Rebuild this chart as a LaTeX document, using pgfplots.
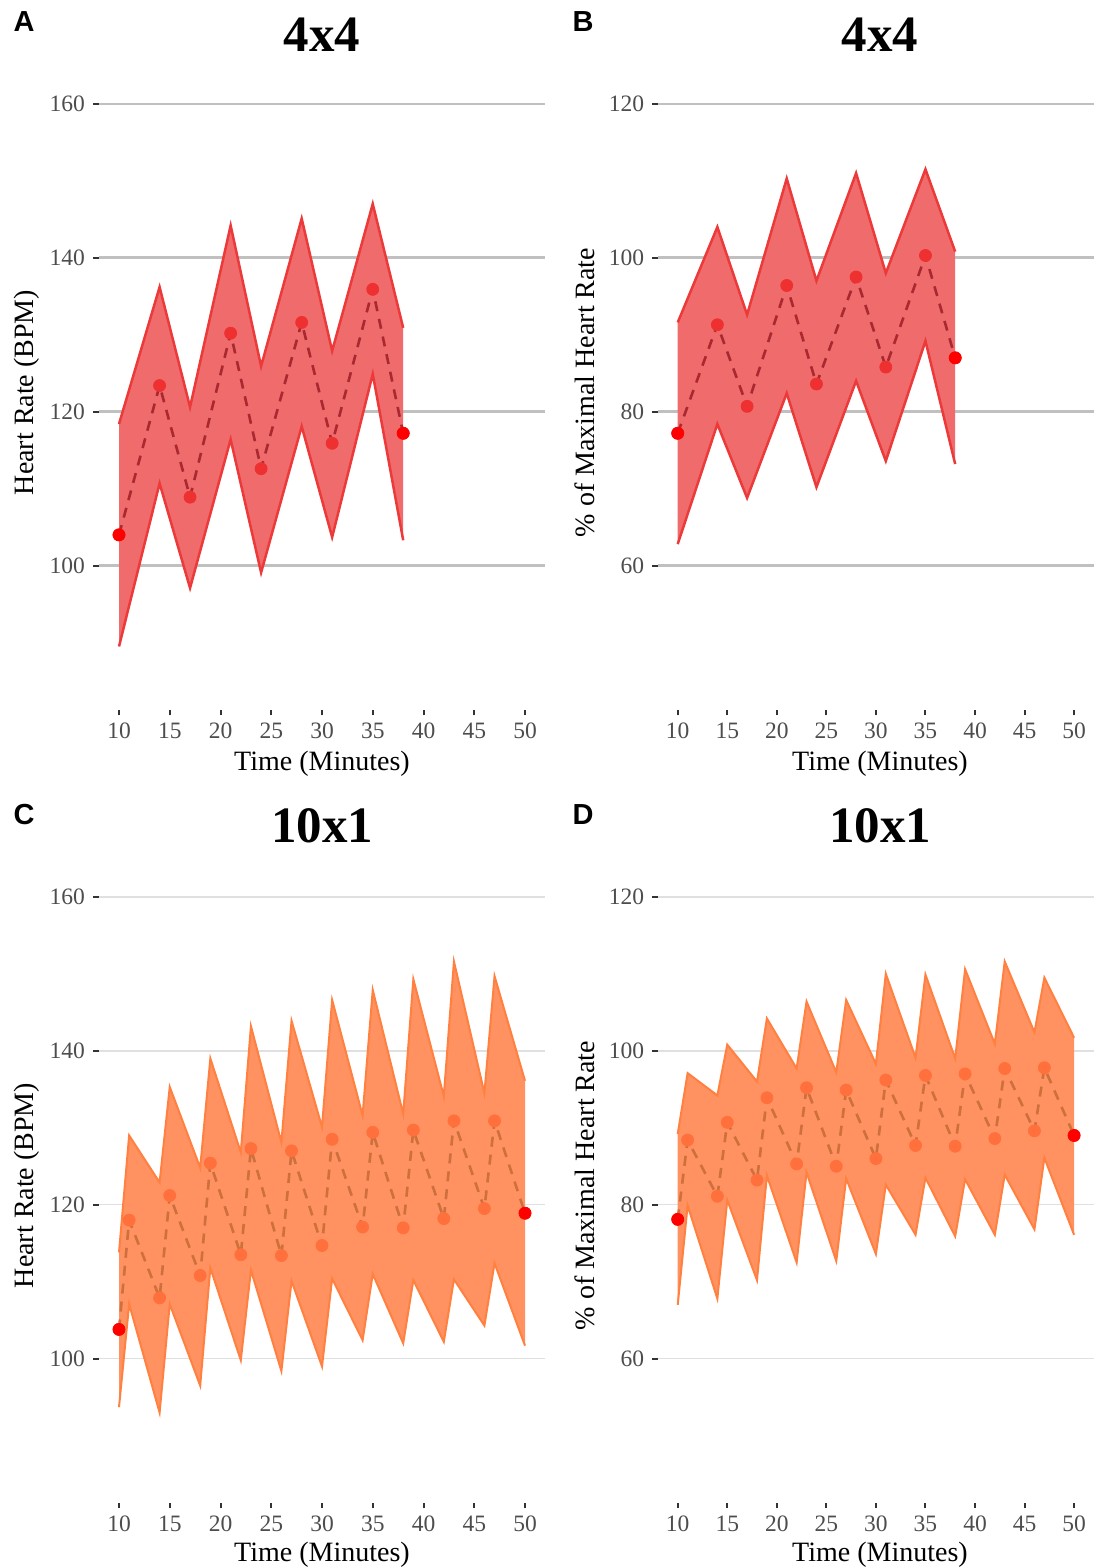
\documentclass[border=0pt]{standalone}
\usepackage{fontspec}
\setmainfont{Liberation Serif}
\newfontfamily\sansfont{Liberation Sans}
\usepackage{pgfplots}
\usepackage{pgfplotstable}
\pgfplotsset{compat=1.18}

\definecolor{fillA}{RGB}{240,107,107}
\definecolor{edgeA}{RGB}{236,58,58}
\definecolor{meanA}{RGB}{168,42,48}
\definecolor{ptA}{RGB}{238,48,48}
\definecolor{fillC}{RGB}{255,146,96}
\definecolor{edgeC}{RGB}{255,128,64}
\definecolor{meanC}{RGB}{205,112,62}
\definecolor{ptC}{RGB}{255,112,60}
\definecolor{gridA}{RGB}{192,192,192}
\definecolor{gridC}{RGB}{224,224,224}
\definecolor{ticklab}{RGB}{77,77,77}
\definecolor{endpt}{RGB}{255,0,0}

\pgfplotstableread{
x mean up lo
10 104.0 118.4 89.5
14 123.4 136.2 110.7
17 108.9 120.6 97.1
21 130.2 144.2 116.4
24 112.6 125.9 99.1
28 131.6 145.1 118.1
31 115.9 127.9 103.7
35 135.9 147.0 124.9
38 117.2 130.9 103.3
}\tA

\pgfplotstableread{
x mean up lo
10 77.2 91.6 62.8
14 91.3 104.0 78.4
17 80.7 92.6 68.8
21 96.4 110.3 82.4
24 83.6 97.0 70.2
28 97.5 111.0 84.0
31 85.8 98.0 73.6
35 100.3 111.5 89.2
38 87.0 100.8 73.2
}\tB

\pgfplotstableread{
x mean up lo
10 103.8 113.8 93.7
11 118.0 129.0 107.1
14 107.9 122.9 93.0
15 121.2 135.3 107.1
18 110.8 124.8 96.5
19 125.4 139.0 111.8
22 113.5 126.8 99.8
23 127.3 143.2 111.5
26 113.4 128.1 98.4
27 127.0 143.9 110.1
30 114.7 130.1 99.0
31 128.5 146.6 110.4
34 117.1 131.6 102.4
35 129.4 147.9 111.0
38 117.0 131.8 102.0
39 129.7 149.3 110.2
42 118.2 134.1 102.2
43 130.9 151.6 110.3
46 119.5 134.5 104.3
47 130.9 149.7 112.4
50 118.9 136.1 101.7
}\tC

\pgfplotstableread{
x mean up lo
10 78.1 89.2 67.0
11 88.4 97.1 79.9
14 81.1 94.2 67.8
15 90.7 100.8 80.6
18 83.2 96.0 70.2
19 93.9 104.2 83.8
22 85.3 97.7 72.5
23 95.2 106.4 84.2
26 85.0 97.2 72.7
27 94.9 106.6 83.4
30 86.0 98.3 73.6
31 96.2 110.0 82.6
34 87.7 99.1 76.1
35 96.8 109.9 83.5
38 87.6 99.0 75.9
39 97.0 110.6 83.3
42 88.6 100.9 76.1
43 97.7 111.6 83.9
46 89.6 102.4 76.8
47 97.8 109.5 86.1
50 89.0 101.7 76.1
}\tD

\pgfplotsset{
  panel/.style={
    scale only axis, anchor=south west,
    xmin=8, xmax=52, xtick={10,15,...,50},
    axis line style={draw=none},
    xtick pos=left, ytick pos=left,
    tick align=outside, major tick length=2.75pt,
    tick style={draw=black!80, line width=1pt},
    ymajorgrids,
    /pgf/number format/assume math mode=true,
    ticklabel style={font=\fontsize{11.75}{14}\selectfont, text=ticklab},
    xticklabel style={yshift=0pt},
    yticklabel style={xshift=-0.6pt},
    clip=false,
  },
  hr/.style={ymin=81.25, ymax=163.75, ytick={100,120,140,160}},
  pct/.style={ymin=41.25, ymax=123.75, ytick={60,80,100,120}},
  gridthick/.style={major grid style={draw=gridA, line width=1.3pt}},
  gridthin/.style={major grid style={draw=gridC, line width=0.7pt}},
}

% lines and points: #1 table, #2 edge, #3 mean, #4 point colour, #5 edge width
\newcommand{\ribbonlines}[5]{%
  \addplot[draw=#2, line width=#5] table[x=x,y=up]{#1};
  \addplot[draw=#2, line width=#5] table[x=x,y=lo]{#1};
  \addplot[draw=#3, line width=1.3pt, dash pattern=on 5pt off 4pt] table[x=x,y=mean]{#1};
  \addplot[only marks, mark=*, mark size=3pt, color=#4] table[x=x,y=mean]{#1};
}

\begin{document}
\begin{tikzpicture}
\path[use as bounding box] (0,0) rectangle (549pt,783.5pt);

% Panel A
\begin{axis}[panel, hr, gridthick, at={(49.35pt,428.5pt)}, width=223.3pt, height=317.5pt]
\addplot[fill=fillA, draw=none] coordinates {(10,118.4)(14,136.2)(17,120.6)(21,144.2)(24,125.9)(28,145.1)(31,127.9)(35,147.0)(38,130.9)(38,103.3)(35,124.9)(31,103.7)(28,118.1)(24,99.1)(21,116.4)(17,97.1)(14,110.7)(10,89.5)} -- cycle;
\ribbonlines{\tA}{edgeA}{meanA}{ptA}{1.25pt}
\addplot[only marks, mark=*, mark size=3pt, color=endpt] coordinates {(10,104.0) (38,117.2)};
\end{axis}

% Panel B
\begin{axis}[panel, pct, gridthick, at={(328.95pt,428.5pt)}, width=218pt, height=317.5pt]
\addplot[fill=fillA, draw=none] coordinates {(10,91.6)(14,104.0)(17,92.6)(21,110.3)(24,97.0)(28,111.0)(31,98.0)(35,111.5)(38,100.8)(38,73.2)(35,89.2)(31,73.6)(28,84.0)(24,70.2)(21,82.4)(17,68.8)(14,78.4)(10,62.8)} -- cycle;
\ribbonlines{\tB}{edgeA}{meanA}{ptA}{1.25pt}
\addplot[only marks, mark=*, mark size=3pt, color=endpt] coordinates {(10,77.2) (38,87.0)};
\end{axis}

% Panel C
\begin{axis}[panel, hr, gridthin, at={(49.35pt,32pt)}, width=223.3pt, height=317.5pt]
\addplot[fill=fillC, draw=none] coordinates {(10,113.8)(11,129.0)(14,122.9)(15,135.3)(18,124.8)(19,139.0)(22,126.8)(23,143.2)(26,128.1)(27,143.9)(30,130.1)(31,146.6)(34,131.6)(35,147.9)(38,131.8)(39,149.3)(42,134.1)(43,151.6)(46,134.5)(47,149.7)(50,136.1)(50,101.7)(47,112.4)(46,104.3)(43,110.3)(42,102.2)(39,110.2)(38,102.0)(35,111.0)(34,102.4)(31,110.4)(30,99.0)(27,110.1)(26,98.4)(23,111.5)(22,99.8)(19,111.8)(18,96.5)(15,107.1)(14,93.0)(11,107.1)(10,93.7)} -- cycle;
\ribbonlines{\tC}{edgeC}{meanC}{ptC}{1.0pt}
\addplot[only marks, mark=*, mark size=3pt, color=endpt] coordinates {(10,103.8) (50,118.9)};
\end{axis}

% Panel D
\begin{axis}[panel, pct, gridthin, at={(328.95pt,32pt)}, width=218pt, height=317.5pt]
\addplot[fill=fillC, draw=none] coordinates {(10,89.2)(11,97.1)(14,94.2)(15,100.8)(18,96.0)(19,104.2)(22,97.7)(23,106.4)(26,97.2)(27,106.6)(30,98.3)(31,110.0)(34,99.1)(35,109.9)(38,99.0)(39,110.6)(42,100.9)(43,111.6)(46,102.4)(47,109.5)(50,101.7)(50,76.1)(47,86.1)(46,76.8)(43,83.9)(42,76.1)(39,83.3)(38,75.9)(35,83.5)(34,76.1)(31,82.6)(30,73.6)(27,83.4)(26,72.7)(23,84.2)(22,72.5)(19,83.8)(18,70.2)(15,80.6)(14,67.8)(11,79.9)(10,67.0)} -- cycle;
\ribbonlines{\tD}{edgeC}{meanC}{ptC}{1.0pt}
\addplot[only marks, mark=*, mark size=3pt, color=endpt] coordinates {(10,78.1) (50,89.0)};
\end{axis}

% titles
\node[font=\fontsize{25.5}{30}\selectfont\bfseries] at (161pt,766pt) {4x4};
\node[font=\fontsize{25.5}{30}\selectfont\bfseries] at (440pt,766pt) {4x4};
\node[font=\fontsize{25.5}{30}\selectfont\bfseries] at (161pt,370.5pt) {10x1};
\node[font=\fontsize{25.5}{30}\selectfont\bfseries] at (440pt,370.5pt) {10x1};

% panel letters
\node[font=\sansfont\fontsize{14.5}{17}\selectfont\bfseries] at (12pt,772.5pt) {A};
\node[font=\sansfont\fontsize{14.5}{17}\selectfont\bfseries] at (291.5pt,772.5pt) {B};
\node[font=\sansfont\fontsize{14.5}{17}\selectfont\bfseries] at (12pt,376pt) {C};
\node[font=\sansfont\fontsize{14.5}{17}\selectfont\bfseries] at (291.5pt,376pt) {D};

% x labels
\node[anchor=base, font=\fontsize{14}{16}\selectfont] at (161pt,398pt) {Time (Minutes)};
\node[anchor=base, font=\fontsize{14}{16}\selectfont] at (440pt,398pt) {Time (Minutes)};
\node[anchor=base, font=\fontsize{14}{16}\selectfont] at (161pt,2.5pt) {Time (Minutes)};
\node[anchor=base, font=\fontsize{14}{16}\selectfont] at (440pt,2.5pt) {Time (Minutes)};

% y labels
\node[rotate=90, font=\fontsize{14}{16}\selectfont] at (13.5pt,587.25pt) {Heart Rate (BPM)};
\node[rotate=90, font=\fontsize{14}{16}\selectfont] at (292.5pt,587.25pt) {\% of Maximal Heart Rate};
\node[rotate=90, font=\fontsize{14}{16}\selectfont] at (13.5pt,190.75pt) {Heart Rate (BPM)};
\node[rotate=90, font=\fontsize{14}{16}\selectfont] at (292.5pt,190.75pt) {\% of Maximal Heart Rate};
\end{tikzpicture}
\end{document}
